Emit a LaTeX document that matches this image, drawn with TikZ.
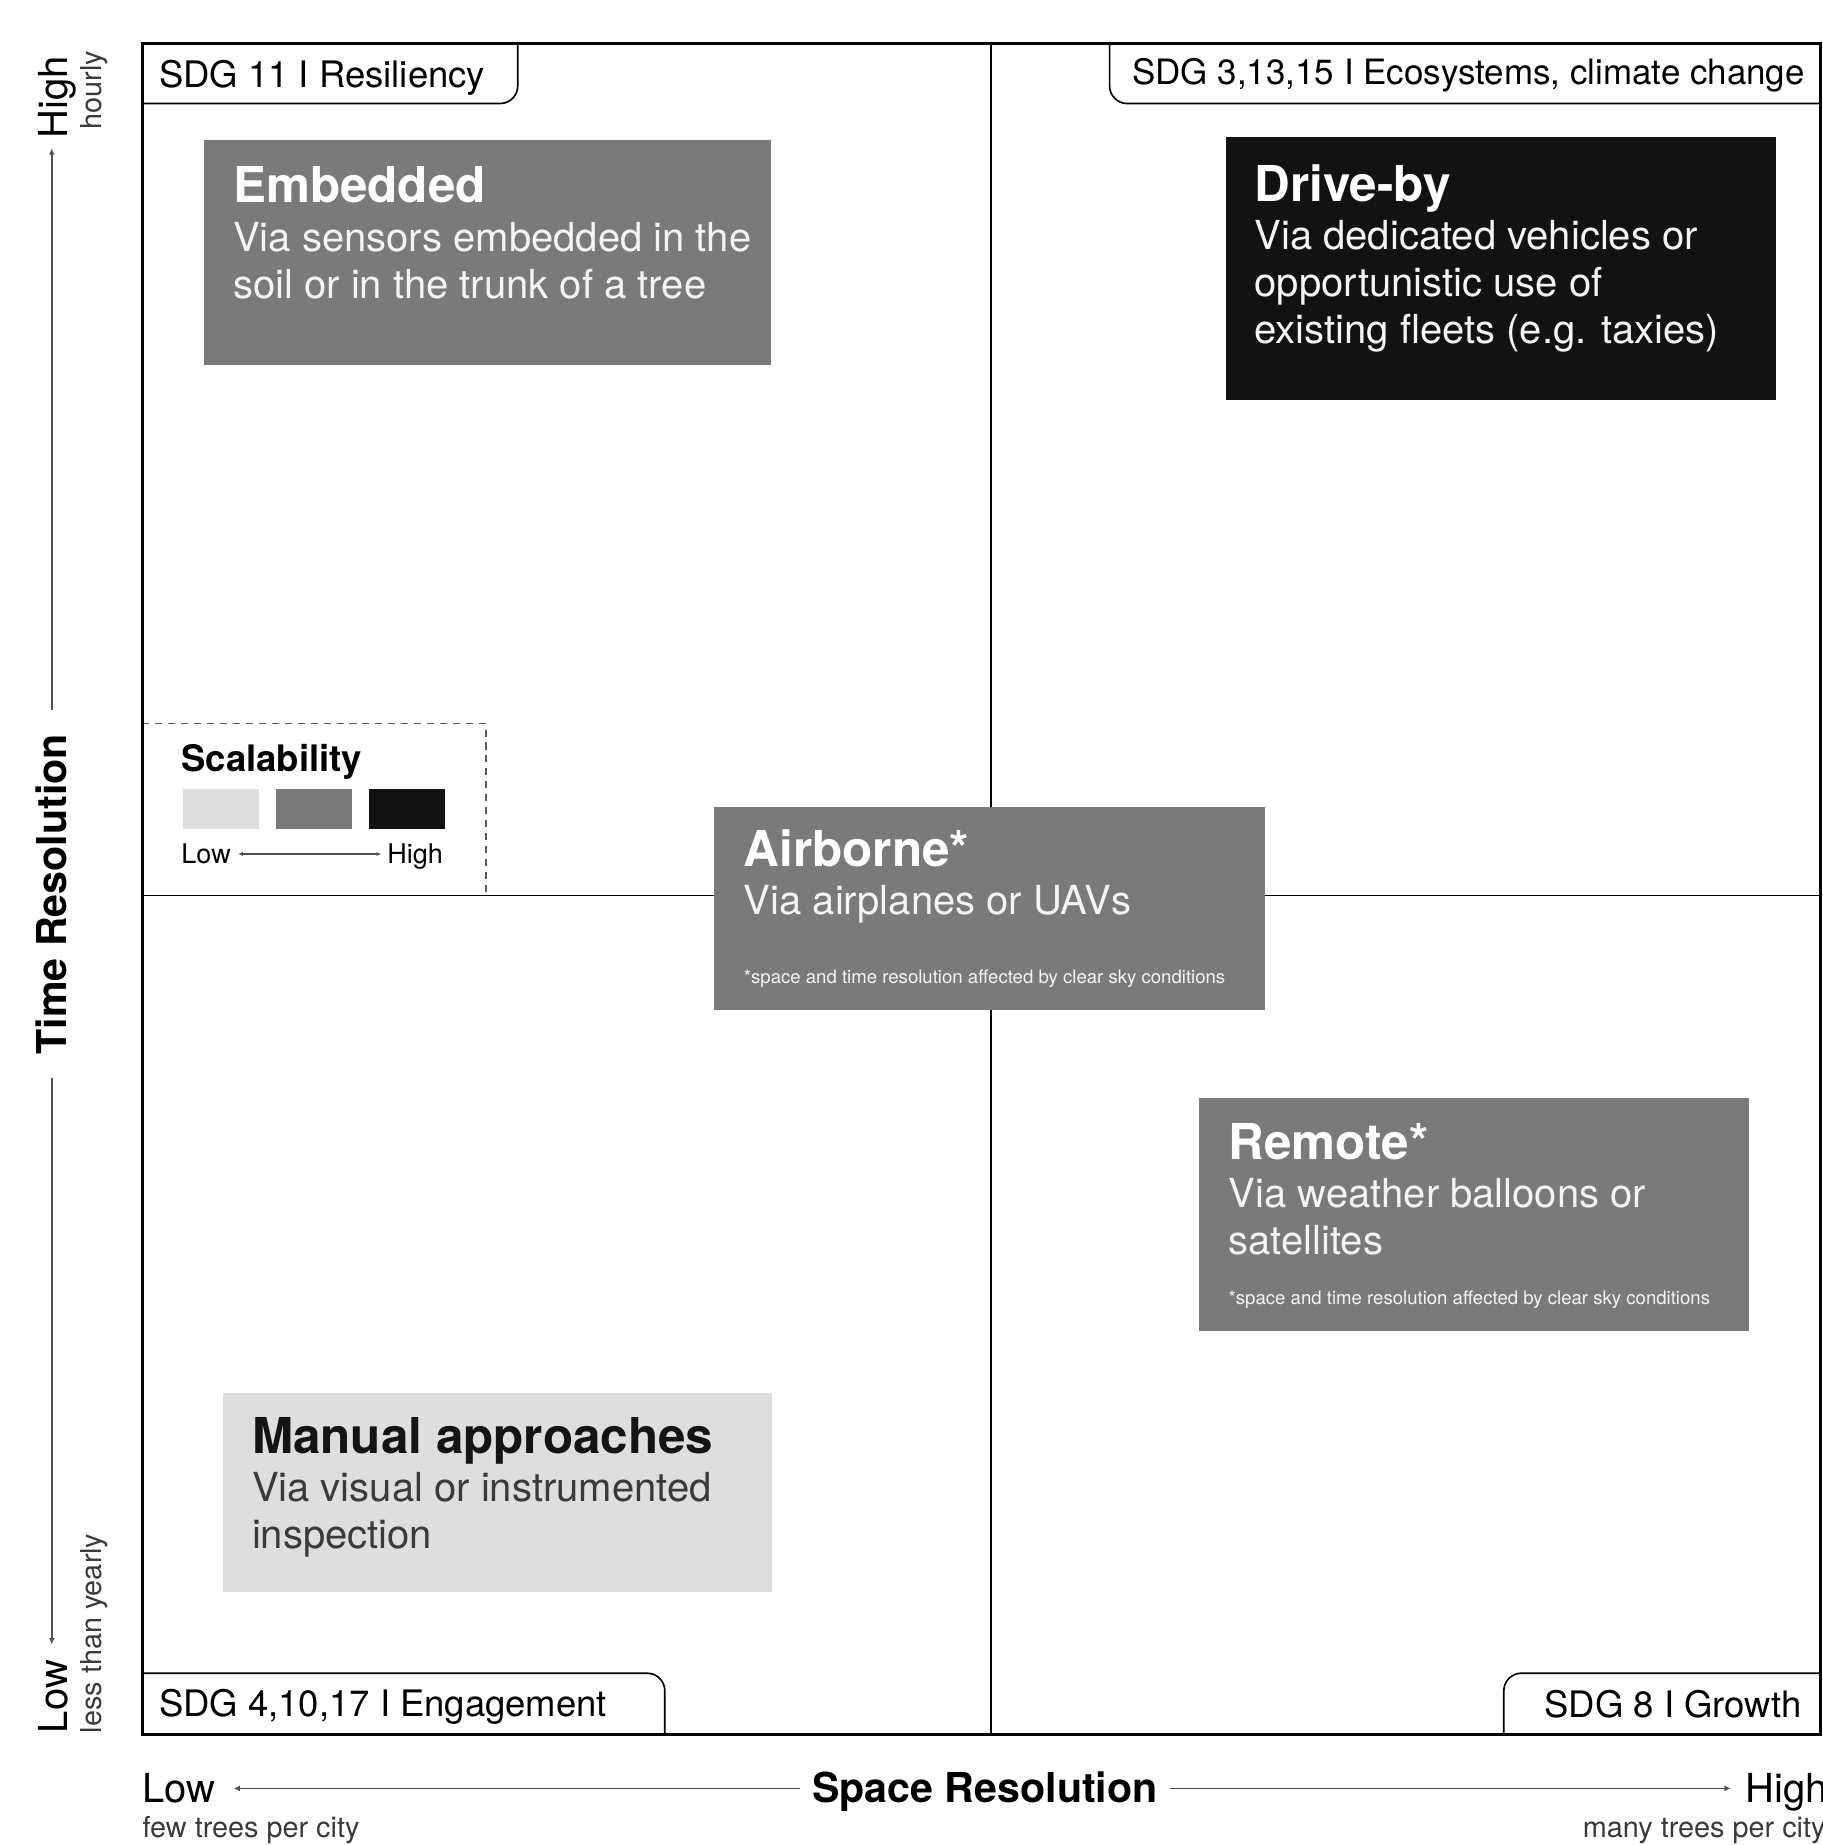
\documentclass[tikz,border=0pt]{standalone}
\usepackage{fontspec}
\setmainfont{TeX Gyre Heros}
\usetikzlibrary{arrows.meta,calc}
\definecolor{midg}{HTML}{7A7A7A}
\definecolor{darkg}{HTML}{121212}
\definecolor{lightg}{HTML}{DEDEDE}
\definecolor{axisgray}{HTML}{505050}
\definecolor{subgray}{HTML}{3A3A3A}
\definecolor{softwhite}{HTML}{F4F4F4}
\begin{document}
\begin{tikzpicture}[x=1pt,y=-1pt,
  frame/.style={line width=3pt},
  quad/.style={line width=1.6pt},
  tabline/.style={line width=1.4pt, rounded corners=15pt},
  tabtxt/.style={anchor=base west, inner sep=0pt, font=\fontsize{31}{36}\selectfont},
  card/.style={anchor=north west, inner sep=0pt, draw=none},
  ttl/.style={anchor=base west, inner sep=0pt, font=\bfseries\fontsize{42}{48}\selectfont},
  bdy/.style={anchor=base west, inner sep=0pt, font=\fontsize{34}{40}\selectfont},
  fnote/.style={anchor=base west, inner sep=0pt, font=\fontsize{15.8}{18}\selectfont, text=softwhite},
  axis/.style={draw=axisgray, line width=1.3pt},
  tipend/.style={-{Latex[length=5.5pt,width=5pt]}},
  axlab/.style={inner sep=0pt, font=\fontsize{34}{40}\selectfont},
  axbold/.style={inner sep=0pt, font=\bfseries\fontsize{35}{40}\selectfont},
  axsub/.style={inner sep=0pt, font=\fontsize{24.5}{28}\selectfont, text=subgray},
  swatch/.style={anchor=north west, inner sep=0pt, minimum width=65pt, minimum height=34pt}
]
\useasboundingbox (0,0) rectangle (1549,1568);

% quadrant lines
\draw[quad] (842,37) -- (842,1474);
\draw[quad] (121,761) -- (1548,761);

% tabs
\draw[tabline] (121,88) -- (440,88) -- (440,37);
\draw[tabline] (943,37) -- (943,88) -- (1548,88);
\draw[tabline] (121,1422) -- (565,1422) -- (565,1474);
\draw[tabline] (1278,1474) -- (1278,1422) -- (1548,1422);
\node[tabtxt] (t11) at (135,74) {SDG 11 I Resiliency};
\node[tabtxt, anchor=base east, font=\fontsize{29.7}{34}\selectfont] (t3) at (1534,72) {SDG 3,13,15 I Ecosystems, climate change};
\node[tabtxt] (t4) at (135,1459) {SDG 4,10,17 I Engagement};
\node[tabtxt, anchor=base east] (t8) at (1531,1460) {SDG 8 I Growth};

% legend
\draw[dashed, draw=gray!70!black, line width=1.3pt, dash pattern=on 6pt off 5pt] (121,615) -- (413,615) -- (413,761);
\node[inner sep=0pt, anchor=base west, font=\bfseries\fontsize{31}{36}\selectfont] (scal) at (154,656) {Scalability};
\node[swatch, fill=lightg] (sw1) at (155,670) {};
\node[swatch, fill=midg] (sw2) at (234,670) {};
\node[swatch, fill=darkg] (sw3) at (313,670) {};
\node[inner sep=0pt, anchor=base west, font=\fontsize{23}{28}\selectfont] (llow) at (154,734) {Low};
\node[inner sep=0pt, anchor=base west, font=\fontsize{23}{28}\selectfont] (lhigh) at (329,734) {High};
\draw[axis, line width=1.1pt, {Latex[length=4pt,width=3.5pt]}-{Latex[length=4pt,width=3.5pt]}] ($(llow.east)+(6,0)$) -- ($(lhigh.west |- llow.east)+(-5,0)$);

% cards
\node[card, fill=midg, minimum width=482pt, minimum height=191pt] (emb) at (173,119) {};
\node[ttl, text=white] (embT) at (198,172) {Embedded};
\node[bdy, text=softwhite] (embB1) at (198,214) {Via sensors embedded in the};
\node[bdy, text=softwhite] (embB2) at (198,254) {soil or in the trunk of a tree};

\node[card, fill=darkg, minimum width=467pt, minimum height=224pt] (drv) at (1042,116) {};
\node[ttl, text=white] (drvT) at (1066,171) {Drive-by};
\node[bdy, text=softwhite] (drvB1) at (1066,212) {Via dedicated vehicles or};
\node[bdy, text=softwhite] (drvB2) at (1066,252) {opportunistic use of};
\node[bdy, text=softwhite] (drvB3) at (1066,292) {existing fleets (e.g. taxies)};

\node[card, fill=midg, minimum width=468pt, minimum height=172pt] (air) at (607,686) {};
\node[ttl, text=white] (airT) at (632,736) {Airborne*};
\node[bdy, text=softwhite] (airB) at (632,777) {Via airplanes or UAVs};
\node[fnote] (airN) at (632,836) {*space and time resolution affected by clear sky conditions};

\node[card, fill=midg, minimum width=467pt, minimum height=198pt] (rem) at (1019,933) {};
\node[ttl, text=white] (remT) at (1044,985) {Remote*};
\node[bdy, text=softwhite] (remB1) at (1044,1026) {Via weather balloons or};
\node[bdy, text=softwhite] (remB2) at (1044,1066) {satellites};
\node[fnote] (remN) at (1044,1109) {*space and time resolution affected by clear sky conditions};

\node[card, fill=lightg, minimum width=467pt, minimum height=169pt] (man) at (189,1184) {};
\node[ttl, text=black!92] (manT) at (214,1235) {Manual approaches};
\node[bdy, text=subgray] (manB1) at (214,1276) {Via visual or instrumented};
\node[bdy, text=subgray] (manB2) at (214,1316) {inspection};

% frame
\draw[frame] (121,37) rectangle (1547,1474);

% horizontal axis
\node[axlab, anchor=base west] (xlow) at (121,1532) {Low};
\node[axbold, anchor=base] (sr) at (837,1532) {Space Resolution};
\node[axlab, anchor=base west] (xhigh) at (1483,1532) {High};
\node[axsub, anchor=base west] (xlowsub) at (121,1562) {few trees per city};
\node[axsub, anchor=base west] (xhighsub) at (1345,1562) {many trees per city};
\draw[axis, tipend] ($(sr.west |- xlow.east)+(-10,0)$) -- ($(xlow.east)+(15,0)$);
\draw[axis, tipend] ($(sr.east |- xlow.east)+(10,0)$) -- ($(xhigh.west |- xlow.east)+(-12,0)$);

% vertical axis
\node[axbold, rotate=90, anchor=center] (tr) at (44,760) {Time Resolution};
\node[axlab, rotate=90, anchor=base west] (yhigh) at (57,118) {High};
\node[axlab, rotate=90, anchor=base west] (ylow) at (57,1473) {Low};
\node[axsub, rotate=90, anchor=base west] (yhighsub) at (86,110) {hourly};
\node[axsub, rotate=90, anchor=base west] (ylowsub) at (86,1473) {less than yearly};
\draw[axis, tipend] ($(tr.east)+(0,-20)$) -- ($(tr.east |- yhigh.west)+(0,8)$);
\draw[axis, tipend] ($(tr.west)+(0,20)$) -- ($(tr.west |- ylow.east)+(0,-13)$);
\end{tikzpicture}
\end{document}
